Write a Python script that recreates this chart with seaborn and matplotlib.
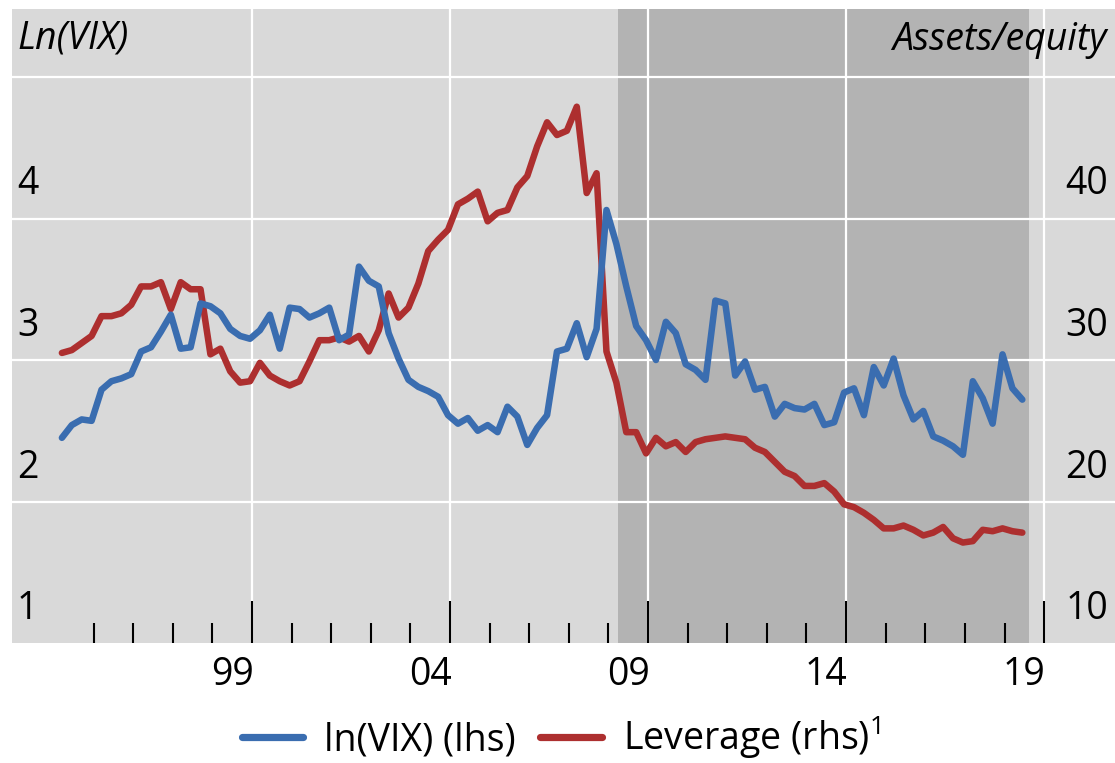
import numpy as np
import pandas as pd
import matplotlib
matplotlib.use("Agg")
import matplotlib.pyplot as plt
import matplotlib.transforms as mtransforms
from matplotlib.lines import Line2D
import seaborn as sns

# Quarterly observations, first quarter of 1995 to second quarter of 2019
first_quarter = 1995.2
ln_vix = [
    2.45, 2.54, 2.58, 2.57, 2.79, 2.85, 2.87, 2.90, 3.06, 3.09,
    3.20, 3.32, 3.08, 3.09, 3.40, 3.38, 3.33, 3.22, 3.17, 3.15,
    3.21, 3.32, 3.08, 3.37, 3.36, 3.30, 3.33, 3.37, 3.14, 3.18,
    3.66, 3.56, 3.52, 3.19, 3.01, 2.86, 2.81, 2.78, 2.74, 2.61,
    2.55, 2.59, 2.50, 2.54, 2.49, 2.67, 2.60, 2.40, 2.52, 2.61,
    3.06, 3.08, 3.26, 3.02, 3.22, 4.06, 3.82, 3.52, 3.24, 3.14,
    3.00, 3.27, 3.19, 2.97, 2.93, 2.86, 3.42, 3.40, 2.89, 2.99,
    2.79, 2.81, 2.60, 2.69, 2.66, 2.65, 2.69, 2.54, 2.56, 2.77,
    2.80, 2.61, 2.95, 2.82, 3.01, 2.75, 2.58, 2.64, 2.46, 2.43,
    2.39, 2.33, 2.85, 2.73, 2.55, 3.04, 2.80, 2.72,
]
leverage = [
    30.5, 30.7, 31.2, 31.7, 33.1, 33.1, 33.3, 33.9, 35.2, 35.2,
    35.5, 33.6, 35.5, 35.0, 35.0, 30.4, 30.8, 29.2, 28.4, 28.5,
    29.8, 28.9, 28.5, 28.2, 28.5, 29.9, 31.4, 31.4, 31.6, 31.3,
    31.7, 30.6, 32.1, 34.7, 33.0, 33.7, 35.4, 37.7, 38.5, 39.2,
    41.0, 41.4, 41.9, 39.8, 40.4, 40.6, 42.2, 43.0, 45.1, 46.8,
    45.9, 46.2, 47.9, 41.8, 43.2, 30.6, 28.4, 24.9, 24.9, 23.4,
    24.5, 23.9, 24.2, 23.5, 24.2, 24.4, 24.5, 24.6, 24.5, 24.4,
    23.8, 23.5, 22.8, 22.1, 21.8, 21.1, 21.1, 21.3, 20.7, 19.8,
    19.6, 19.2, 18.7, 18.1, 18.1, 18.3, 18.0, 17.6, 17.8, 18.2,
    17.4, 17.1, 17.2, 18.0, 17.9, 18.1, 17.9, 17.8,
]
year_labels = ["99", "04", "09", "14", "19"]
label_years = [1999, 2004, 2009, 2014, 2019]
left_ticks = [1, 2, 3, 4]
right_ticks = [10, 20, 30, 40]
post_crisis = (2009.24, 2019.62)

dates = first_quarter + 0.25 * np.arange(len(ln_vix))
df = pd.DataFrame({"date": dates, "ln_vix": ln_vix, "leverage": leverage})

BLUE = "#3A6DB0"
RED = "#AD2F2F"
BG = "#D9D9D9"
SHADE = "#B3B3B3"
FS = 27
LW = 4.7

sns.set_theme(style="white")
plt.rcParams["font.family"] = ["Open Sans", "DejaVu Sans"]
plt.rcParams["text.color"] = "black"
plt.rcParams["mathtext.fontset"] = "custom"
plt.rcParams["mathtext.rm"] = "Open Sans"
plt.rcParams["mathtext.it"] = "Open Sans:italic"

W, H = 1115, 763
fig = plt.figure(figsize=(W / 100, H / 100), dpi=100)
fig.patch.set_facecolor("white")
ax = fig.add_axes([12 / W, 1 - 643 / H, 1103 / W, 634 / H])
ax.set_facecolor(BG)

# x in decimal years, 39.6 px per year
ax.set_xlim(1993.94, 2021.79)
ax.set_ylim(10, 10 + 634 / 14.15)
axv = ax.twinx()
axv.set_ylim(1, 1 + 634 / 141.5)

ax.axvspan(*post_crisis, color=SHADE, lw=0, zorder=0.2)

sns.lineplot(data=df, x="date", y="leverage", ax=ax, color=RED, lw=LW,
             legend=False, zorder=3)
sns.lineplot(data=df, x="date", y="ln_vix", ax=axv, color=BLUE, lw=LW,
             legend=False, zorder=3)

for a in (ax, axv):
    a.set_xlabel("")
    a.set_ylabel("")
    for s in a.spines.values():
        s.set_visible(False)

ax.set_axisbelow(True)
ax.set_xticks(np.arange(2000, 2021, 5))
ax.set_xticks([y for y in range(1996, 2020) if y % 5 != 0], minor=True)
ax.set_yticks([20, 30, 40, 50])
ax.tick_params(axis="x", which="major", bottom=True, direction="in", length=30,
               width=1.5, color="black", labelbottom=False)
ax.tick_params(axis="x", which="minor", bottom=True, direction="in",
               length=14.5, width=1.5, color="black", labelbottom=False)
ax.tick_params(axis="y", length=0, labelleft=False, labelright=False)
axv.tick_params(axis="y", length=0, labelleft=False, labelright=False)
ax.grid(True, which="major", color="white", lw=1.6)
ax.grid(False, which="minor")
axv.grid(False)


def shifted(base, dy_px):
    return base + mtransforms.ScaledTranslation(0, dy_px / 100, fig.dpi_scale_trans)


left_tr = shifted(mtransforms.blended_transform_factory(ax.transAxes, axv.transData), 24)
right_tr = shifted(mtransforms.blended_transform_factory(ax.transAxes, ax.transData), 24)
for v in left_ticks:
    ax.text(5 / 1103, v, str(v), transform=left_tr, ha="left", va="baseline",
            fontsize=FS, color="black")
for v in right_ticks:
    ax.text(1096 / 1103, v, str(v), transform=right_tr, ha="right",
            va="baseline", fontsize=FS, color="black")

unit_l = shifted(mtransforms.blended_transform_factory(ax.transAxes, axv.transData), 28)
unit_r = shifted(mtransforms.blended_transform_factory(ax.transAxes, ax.transData), 27)
ax.text(5 / 1103, 5, "Ln(VIX)", transform=unit_l, ha="left", va="baseline",
        fontsize=FS, style="italic", color="black")
ax.text(1095 / 1103, 50, "Assets/equity", transform=unit_r, ha="right",
        va="baseline", fontsize=FS, style="italic", color="black")

xlab_tr = shifted(mtransforms.blended_transform_factory(ax.transData, ax.transAxes), -13)
for yr, lab in zip(label_years, year_labels):
    ax.text(yr + 0.5, 0, lab, transform=xlab_tr, ha="center", va="top",
            fontsize=FS, color="black")

handles = [Line2D([], [], color=BLUE, lw=5.2), Line2D([], [], color=RED, lw=5.2)]
leg = fig.legend(handles, ["ln(VIX) (lhs)", "Leverage (rhs)$^{1}$"],
                 loc="lower center", bbox_to_anchor=(0.503, -0.022), ncol=2,
                 frameon=False, fontsize=FS, handlelength=1.65,
                 handletextpad=0.55, columnspacing=0.65, borderaxespad=0.1)
for t in leg.get_texts():
    t.set_color("black")

fig.savefig("out.png", dpi=100)
